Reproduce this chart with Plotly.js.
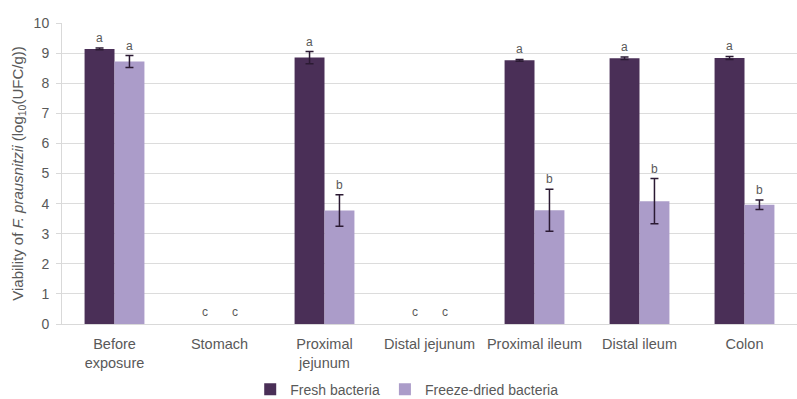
<!DOCTYPE html>
<html>
<head>
<meta charset="utf-8">
<script src="https://cdn.plot.ly/plotly-3.0.1.min.js"></script>
<style>html,body{margin:0;padding:0;background:#fff;}#chart{width:797px;height:399px;}</style>
</head>
<body>
<div id="chart"></div>
<script>
const categories = ["Before<br>exposure", "Stomach", "Proximal<br>jejunum", "Distal jejunum", "Proximal ileum", "Distal ileum", "Colon"];
const freshValues = [9.14, 0, 8.85, 0, 8.76, 8.83, 8.84];
const freshErrors = [0.03, NaN, 0.2, NaN, 0.03, 0.04, 0.05];
const freshLetters = ["a", "c", "a", "c", "a", "a", "a"];
const freezeValues = [8.72, 0, 3.77, 0, 3.78, 4.08, 3.96];
const freezeErrors = [0.2, NaN, 0.52, NaN, 0.7, 0.75, 0.16];
const freezeLetters = ["a", "c", "b", "c", "b", "b", "b"];
const yTicks = [0, 1, 2, 3, 4, 5, 6, 7, 8, 9, 10];

const grey = "#595959";
const traces = [
  {
    type: "bar", name: "Fresh bacteria", x: categories, y: freshValues,
    marker: {color: "#4a2f57"},
    error_y: {type: "data", array: freshErrors, visible: true, color: "#2b1a33", thickness: 1.5, width: 4}
  },
  {
    type: "bar", name: "Freeze-dried bacteria", x: categories, y: freezeValues,
    marker: {color: "#ab9cc9"},
    error_y: {type: "data", array: freezeErrors, visible: true, color: "#2b1a33", thickness: 1.5, width: 4}
  }
];

const annotations = [];
categories.forEach((c, i) => {
  const fe = isNaN(freshErrors[i]) ? 0 : freshErrors[i];
  const ze = isNaN(freezeErrors[i]) ? 0 : freezeErrors[i];
  annotations.push({x: c, y: freshValues[i] + fe, xref: "x", yref: "y", xshift: -15, yshift: freshValues[i] === 0 ? 3 : 1,
    text: freshLetters[i], showarrow: false, yanchor: "bottom", font: {size: 12, color: grey}});
  annotations.push({x: c, y: freezeValues[i] + ze, xref: "x", yref: "y", xshift: 15, yshift: freezeValues[i] === 0 ? 3 : 1,
    text: freezeLetters[i], showarrow: false, yanchor: "bottom", font: {size: 12, color: grey}});
});

const layout = {
  width: 797, height: 399,
  margin: {l: 62, r: 0, t: 23, b: 75, autoexpand: false},
  paper_bgcolor: "#ffffff", plot_bgcolor: "#ffffff",
  font: {family: "Liberation Sans, Arial, sans-serif", size: 12, color: grey},
  barmode: "group", bargap: 0.43, bargroupgap: 0,
  showlegend: true,
  legend: {orientation: "h", x: 0.469, xanchor: "center", y: -0.165, yanchor: "top",
    font: {size: 14, color: grey}, itemwidth: 30, traceorder: "normal"},
  xaxis: {
    type: "category", showgrid: false, showline: true, linecolor: "#d9d9d9", linewidth: 1,
    ticks: "", tickfont: {size: 14.5, color: grey}, ticklabelstandoff: 7, automargin: false, fixedrange: true
  },
  yaxis: {
    range: [0, 10], tickvals: yTicks, ticktext: yTicks.map(String),
    showgrid: true, gridcolor: "#dcdcdc", gridwidth: 1, zeroline: false,
    showline: true, linecolor: "#d9d9d9", ticks: "outside", ticklen: 5, tickcolor: "#d9d9d9",
    ticklabelstandoff: 4,
    tickfont: {size: 14, color: grey}, automargin: false,
    title: {text: "Viability of <i>F. prausnitzii</i> (log<sub>10</sub>(UFC/g))", font: {size: 15, color: grey}, standoff: 6}
  },
  annotations: annotations
};

Plotly.newPlot("chart", traces, layout, {displayModeBar: false, staticPlot: true});
</script>
</body>
</html>
